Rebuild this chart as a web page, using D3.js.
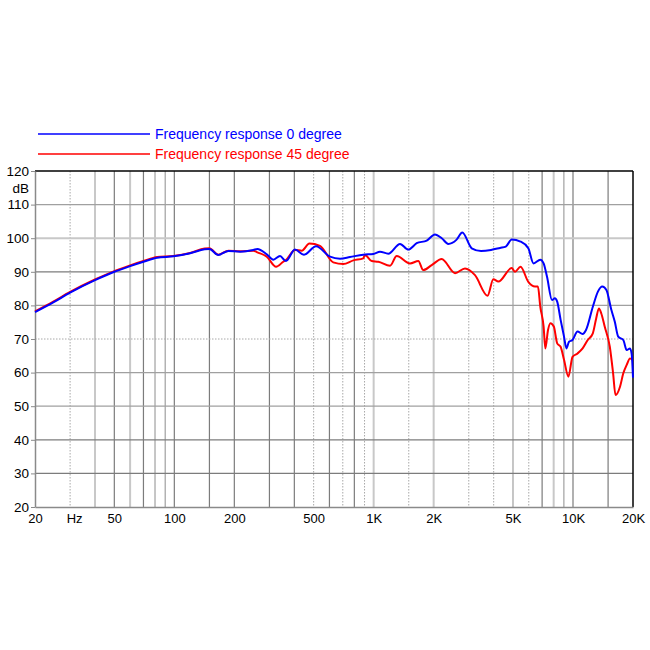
<!DOCTYPE html>
<html>
<head>
<meta charset="utf-8">
<script src="https://cdn.jsdelivr.net/npm/d3@7"></script>
<style>
  html, body { margin: 0; padding: 0; background: #fff; }
  svg { display: block; font-family: "Liberation Sans", Arial, Helvetica, sans-serif; }
  .axis text { fill: #000; }
  .axis .domain { stroke: #8a8a8a; stroke-width: 1.5; }
  .axis .tick line { stroke: #8a8a8a; }
  .g-dark { stroke: #7c7c7c; stroke-width: 1.2; }
  .g-mid { stroke: #a0a0a0; stroke-width: 1.2; }
  .g-light { stroke: #c8c8c8; stroke-width: 2; }
  .g-dot { stroke: #a8a8a8; stroke-width: 1; stroke-dasharray: 1.5 1.5; }
</style>
</head>
<body>
<div id="chart"></div>
<script>
/* Loudspeaker frequency response, on-axis vs 45 degrees off-axis. */

// axis ticks
const yTicks = [20, 30, 40, 50, 60, 70, 80, 90, 100, 110, 120];
const xTickValues = [20, 30, 50, 100, 200, 500, 1000, 2000, 5000, 10000, 20000];
const xTickLabels = ["20", "Hz", "50", "100", "200", "500", "1K", "2K", "5K", "10K", "20K"];
const xGrid = [30, 40, 50, 60, 70, 80, 90, 100, 150, 200, 300, 400, 500, 600, 700, 800, 900,
  1000, 1500, 2000, 3000, 4000, 5000, 6000, 7000, 8000, 9000, 10000, 15000];

// series labels
const seriesNames = ["Frequency response 0 degree", "Frequency response 45 degree"];

// 0 degree (Hz / dB)
const freq0 = [20, 24.7, 30, 40, 50, 60, 70, 82, 99, 120, 142, 150, 166, 187, 214, 249, 261,
  291, 314, 339, 363, 403, 447, 514, 604, 678, 761, 887, 996, 1076, 1184, 1356, 1492, 1644,
  1846, 2031, 2195, 2368, 2600, 2785, 3104, 3456, 3880, 4304, 4600, 4928, 5454, 5968, 6338,
  6855, 7122, 7408, 7848, 8106, 8332, 8668, 9016, 9268, 9550, 9944, 10536, 11176, 11622,
  12574, 13336, 14030, 14708, 15584, 16210, 16860, 17880, 18596, 19320, 19700, 20000];
const db0 = [78.0, 80.9, 83.8, 87.5, 90.0, 91.7, 93.0, 94.2, 94.6, 95.5, 96.7, 96.8, 95.0,
  96.2, 96.0, 96.5, 96.8, 95.2, 93.6, 94.7, 93.2, 96.6, 95.1, 97.6, 94.5, 93.9, 94.4, 95.1,
  95.3, 96.0, 95.4, 98.3, 96.6, 98.5, 99.3, 101.1, 100.0, 98.3, 99.5, 101.7, 97.0, 96.2, 96.5,
  97.1, 97.5, 99.6, 99.0, 97.0, 92.5, 93.6, 92.5, 88.5, 81.6, 82.1, 81.1, 75.7, 70.7, 67.2,
  69.2, 69.7, 72.2, 71.5, 72.7, 79.6, 84.1, 85.6, 84.6, 78.6, 75.1, 70.7, 69.7, 66.7, 67.2,
  65.5, 58.5];

// 45 degree (Hz / dB)
const freq45 = [20, 24.7, 30, 40, 50, 60, 70, 82, 99, 120, 142, 150, 166, 187, 214, 249, 261,
  291, 324, 352, 363, 403, 436, 476, 538, 627, 704, 791, 887, 905, 978, 1055, 1208, 1305,
  1522, 1675, 1774, 1955, 2195, 2560, 2872, 3224, 3726, 3984, 4222, 4928, 5118, 5454, 5968,
  6448, 6668, 6855, 7122, 7264, 7494, 7704, 8012, 8332, 8668, 9016, 9484, 9944, 10536, 11176,
  11854, 12574, 13078, 13490, 13868, 14422, 15298, 15894, 16340, 17214, 17880, 18596, 19320,
  19954];
const db45 = [78.2, 81.1, 84.0, 87.7, 90.2, 91.9, 93.2, 94.4, 94.7, 95.6, 96.9, 97.0, 95.1,
  96.3, 96.1, 96.3, 95.8, 94.5, 91.5, 93.0, 93.5, 96.5, 96.3, 98.4, 97.7, 92.8, 92.3, 93.4,
  94.0, 95.0, 93.2, 93.0, 91.8, 94.7, 92.5, 93.2, 90.5, 92.0, 93.8, 89.6, 91.0, 89.0, 82.9,
  87.8, 87.1, 91.1, 90.0, 91.5, 87.0, 85.6, 85.6, 79.6, 73.7, 67.2, 72.7, 74.7, 73.7, 68.7,
  67.7, 63.8, 58.8, 64.7, 65.7, 67.2, 69.7, 71.7, 76.2, 79.1, 77.6, 73.7, 67.7, 59.8, 53.3,
  55.8, 59.8, 62.3, 64.2, 63.8];

const W = 650, H = 650;
const margin = { top: 171, right: 17, bottom: 143, left: 35 };

const svg = d3.select("#chart").append("svg")
  .attr("width", W).attr("height", H).attr("viewBox", `0 0 ${W} ${H}`);

const x = d3.scaleLog().domain([20, 20000]).range([margin.left, W - margin.right]);
const y = d3.scaleLinear().domain([20, 120]).range([H - margin.bottom, margin.top]);

// grid line look varies a lot in the original scan
const darkF = new Set([50, 70, 100, 150, 200, 300, 400, 600, 800, 7000, 10000, 15000]);
const lightF = new Set([40, 60, 1000, 2000, 8000]);
const dotF = new Set([30, 500, 700, 900, 1500, 3000, 4000, 6000]);
function vClass(f) {
  if (darkF.has(f)) return "g-dark";
  if (lightF.has(f)) return "g-light";
  if (dotF.has(f)) return "g-dot";
  return "g-mid";
}
function hClass(v) {
  if (v === 100) return "g-light";
  if (v === 70) return "g-dot";
  if (v === 90 || v === 40 || v === 30) return "g-dark";
  return "g-mid";
}

const grid = svg.append("g");
grid.selectAll("line.v").data(xGrid).join("line")
  .attr("class", d => "v " + vClass(d))
  .attr("x1", d => x(d)).attr("x2", d => x(d))
  .attr("y1", y(120)).attr("y2", y(20));
grid.selectAll("line.h").data(yTicks.filter(v => v > 20 && v < 120)).join("line")
  .attr("class", d => "h " + hClass(d))
  .attr("x1", x(20)).attr("x2", x(20000))
  .attr("y1", d => y(d)).attr("y2", d => y(d));

// frame: top and right are black
svg.append("line").attr("x1", x(20)).attr("x2", x(20000)).attr("y1", y(120)).attr("y2", y(120))
  .attr("stroke", "#000").attr("stroke-width", 1.5);
svg.append("line").attr("x1", x(20000)).attr("x2", x(20000)).attr("y1", y(120)).attr("y2", y(20))
  .attr("stroke", "#000").attr("stroke-width", 1.5);

// axes
const yAxis = svg.append("g").attr("class", "axis")
  .attr("transform", `translate(${margin.left},0)`)
  .call(d3.axisLeft(y).tickValues(yTicks).tickSize(4).tickPadding(2).tickSizeOuter(0));
yAxis.selectAll("text").attr("font-size", 13.5);

const xAxis = svg.append("g").attr("class", "axis")
  .attr("transform", `translate(0,${H - margin.bottom})`)
  .call(d3.axisBottom(x).tickValues(xTickValues).tickSize(0).tickPadding(7).tickSizeOuter(0)
    .tickFormat((d, i) => xTickLabels[i]));
xAxis.selectAll("text").attr("font-size", 13);
xAxis.selectAll(".tick").filter(d => d === 30).select("text").attr("dx", 4);

svg.append("text").attr("x", margin.left - 6).attr("y", y(120) + 22)
  .attr("text-anchor", "end").attr("font-size", 13.5).text("dB");

// curves
const COLORS = ["#0000ff", "#ff0000"];
const series = [
  { f: freq0, v: db0, color: COLORS[0] },
  { f: freq45, v: db45, color: COLORS[1] },
];
const line = d3.line().curve(d3.curveMonotoneX);
series.slice().reverse().forEach(s => {
  const pts = s.f.map((f, i) => [x(f), y(s.v[i])]);
  svg.append("path").attr("d", line(pts))
    .attr("fill", "none").attr("stroke", s.color).attr("stroke-width", 2)
    .attr("stroke-linejoin", "round");
});

// legend
seriesNames.forEach((name, i) => {
  const ly = 134 + i * 20;
  svg.append("line").attr("x1", 38).attr("x2", 150).attr("y1", ly).attr("y2", ly)
    .attr("stroke", COLORS[i]).attr("stroke-width", 1.5);
  svg.append("text").attr("x", 155).attr("y", ly + 5)
    .attr("font-size", 14).attr("fill", COLORS[i]).text(name);
});
</script>
</body>
</html>
